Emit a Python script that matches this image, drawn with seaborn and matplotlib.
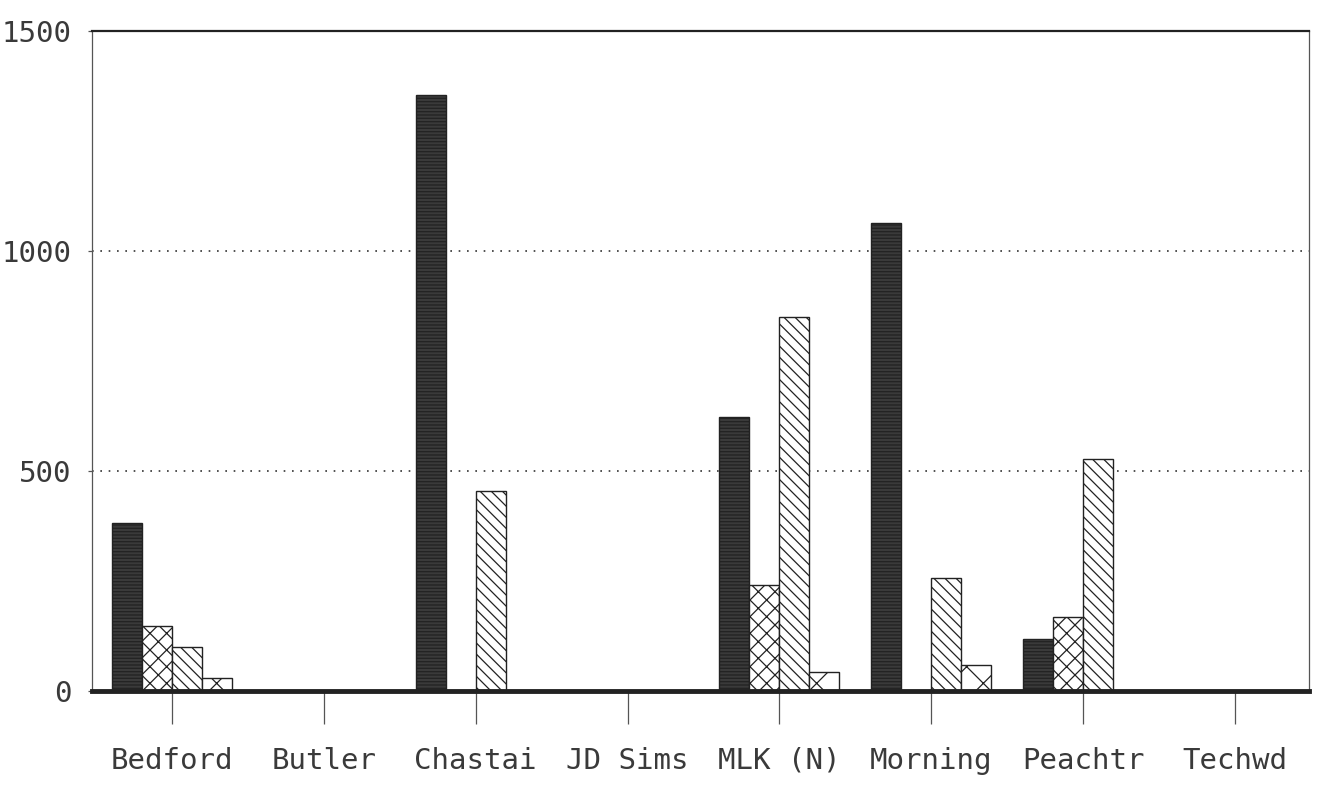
import matplotlib
matplotlib.use("Agg")
import matplotlib.pyplot as plt
import seaborn as sns
import pandas as pd

categories = ["Bedford", "Butler", "Chastai", "JD Sims", "MLK (N)", "Morning", "Peachtr", "Techwd"]
series_names = ["S1", "S2", "S3", "S4"]
s1 = [382, 0, 1355, 0, 623, 1064, 118, 0]
s2 = [148, 0, 0, 0, 241, 0, 168, 0]
s3 = [100, 0, 455, 0, 850, 257, 527, 0]
s4 = [30, 0, 0, 0, 43, 59, 0, 0]
y_ticks = [0, 500, 1000, 1500]

rows = []
for name, vals in zip(series_names, [s1, s2, s3, s4]):
    for c, v in zip(categories, vals):
        rows.append({"cat": c, "series": name, "value": v})
df = pd.DataFrame(rows)

sns.set_style("white")
plt.rcParams["font.family"] = ["DejaVu Sans Mono", "DejaVu Sans"]
plt.rcParams["hatch.linewidth"] = 0.9

fig = plt.figure(figsize=(13.17, 7.96), dpi=100)
ax = fig.add_axes([92/1317, 1 - 691/796, (1309-92)/1317, (691-31)/796])

sns.barplot(data=df, x="cat", y="value", hue="series", order=categories,
            hue_order=series_names, width=0.79, dodge=True, ax=ax,
            palette=["#3a3a3a", "white", "white", "white"],
            edgecolor="#222222", linewidth=1.0, legend=False, errorbar=None,
            saturation=1)

hatches = ["-----", "xx", "\\\\\\", "x"]
for cont, h in zip(ax.containers, hatches):
    for p in cont.patches:
        p.set_hatch(h)

ax.set_xlim(-0.527, 7.487)
ax.set_ylim(0, 1500)
ax.set_yticks(y_ticks)
ax.set_xlabel("")
ax.set_ylabel("")

for v in [500, 1000]:
    ax.axhline(v, color="#333333", linestyle=(0, (1, 4)), linewidth=1.2, zorder=0)

for side in ["left", "right"]:
    ax.spines[side].set_color("#555555")
    ax.spines[side].set_linewidth(0.9)
ax.spines["top"].set_color("#222222")
ax.spines["top"].set_linewidth(1.6)
ax.spines["bottom"].set_color("#222222")
ax.spines["bottom"].set_linewidth(3.5)
ax.spines["bottom"].set_zorder(5)

ax.tick_params(axis="x", direction="out", length=24, width=0.9, color="#555555",
               pad=16, labelsize=21, labelcolor="#3a3a3a", bottom=True)
ax.tick_params(axis="y", direction="out", length=3, width=0.9, color="#555555",
               pad=12, labelsize=21, labelcolor="#3a3a3a", left=True)

fig.savefig("out.png", dpi=100)
